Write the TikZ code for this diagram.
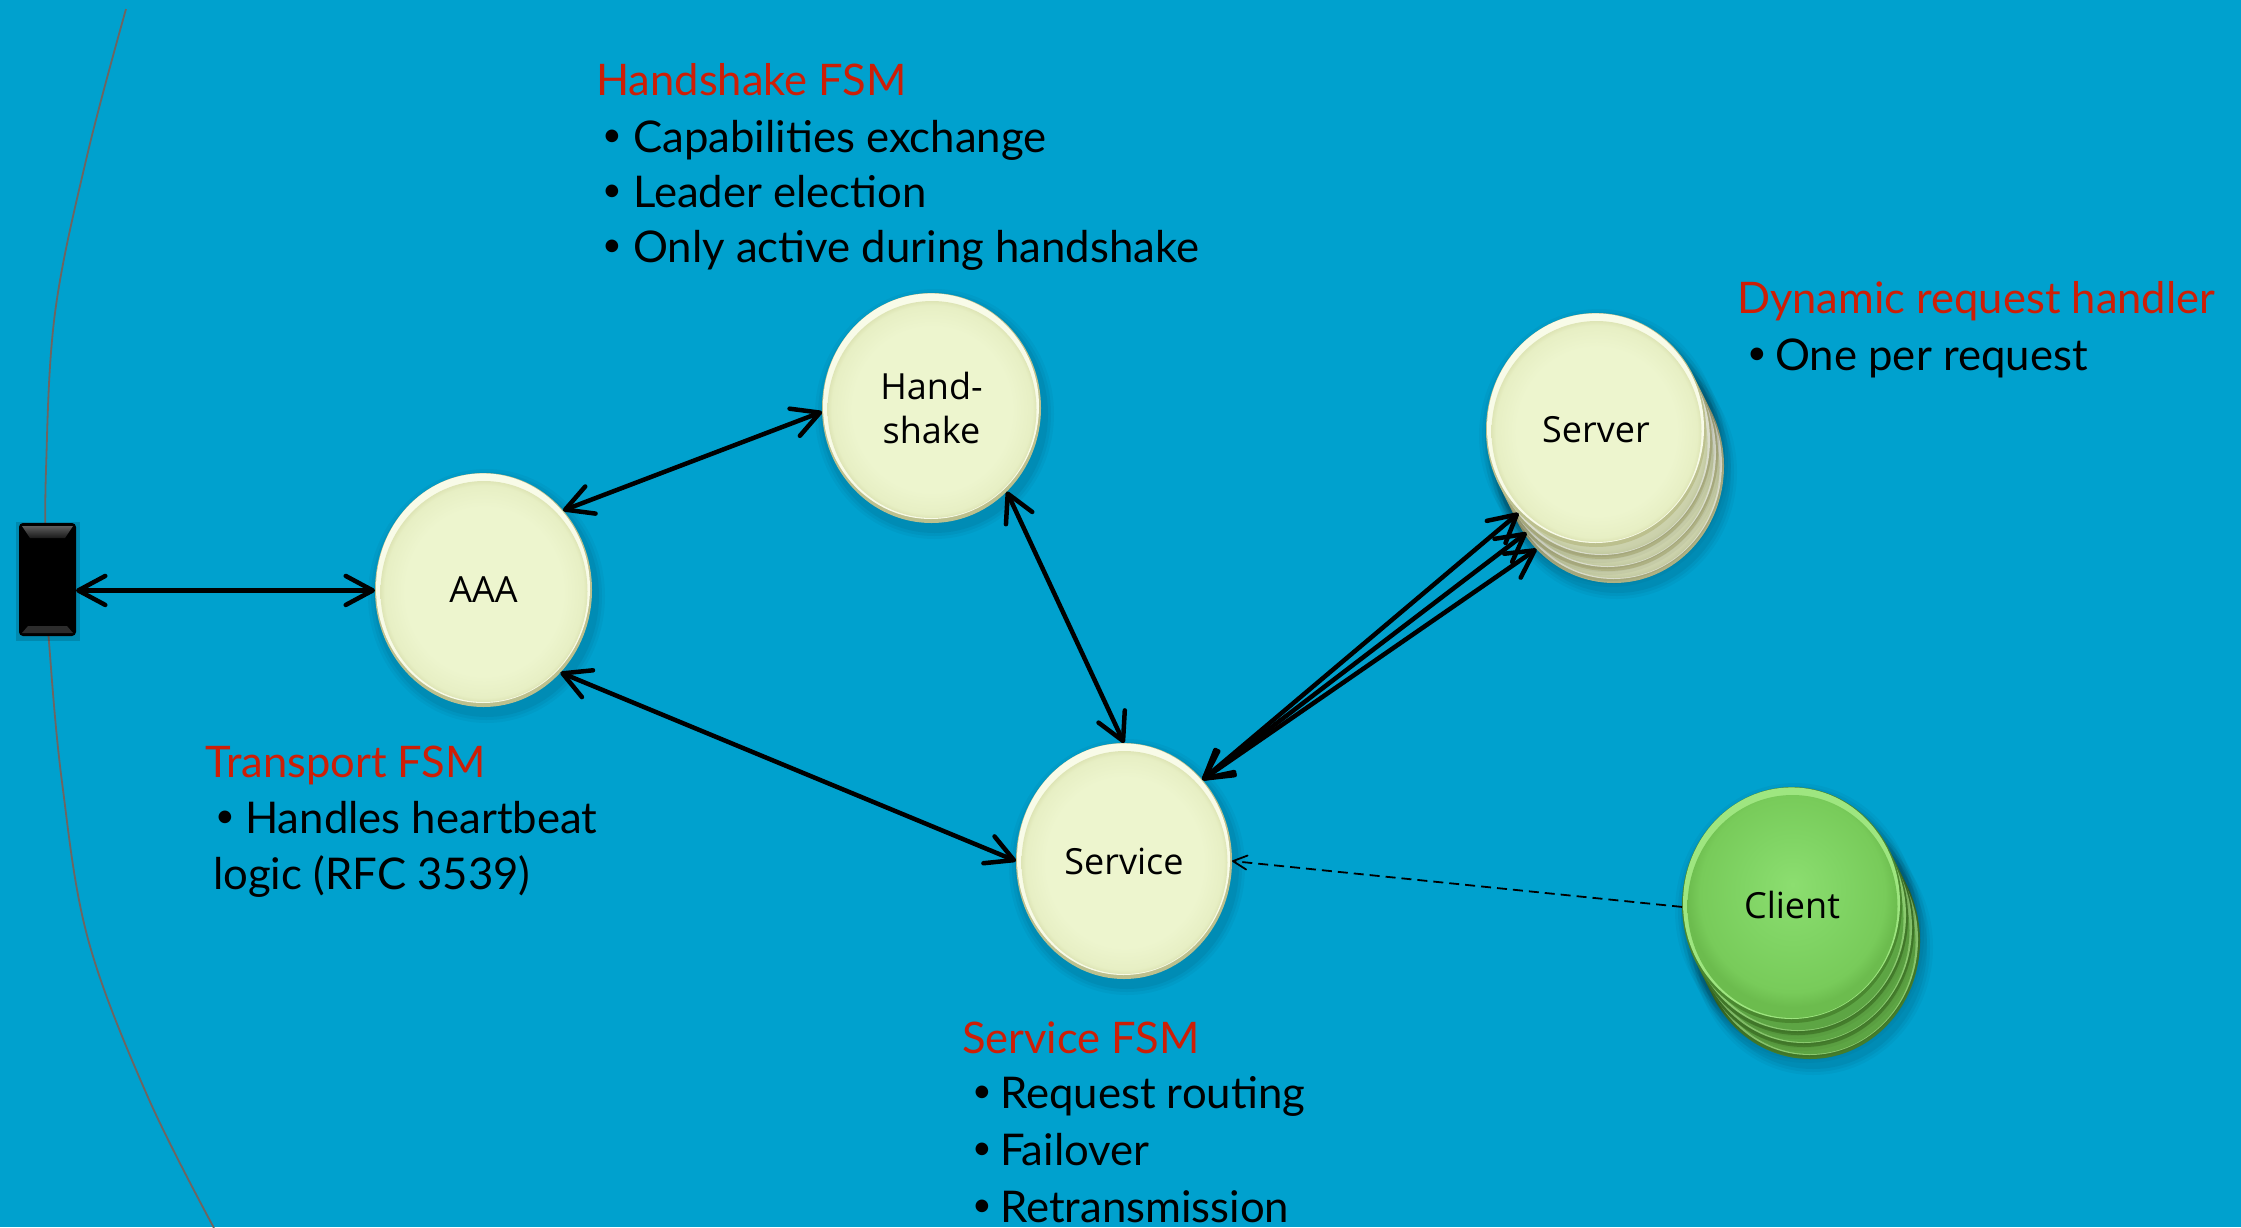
\documentclass[tikz,border=0pt]{standalone}
\usepackage{fontspec}
\usetikzlibrary{arrows.meta,shapes.geometric}
\newfontfamily\labelfont{Lato}
\newfontfamily\diskfont{Open Sans}

\definecolor{sea}{RGB}{0,161,206}
\definecolor{fsmred}{RGB}{206,30,6}
\definecolor{rimline}{RGB}{112,100,96}
\definecolor{beigeA}{RGB}{237,245,206}
\definecolor{beigeB}{RGB}{231,239,196}
\definecolor{beigeC}{RGB}{222,229,182}
\definecolor{beigeDark}{RGB}{188,192,142}
\definecolor{beigeLight}{RGB}{248,251,232}
\definecolor{greenTop}{RGB}{140,222,112}
\definecolor{greenA}{RGB}{128,212,100}
\definecolor{greenB}{RGB}{120,203,90}
\definecolor{greenC}{RGB}{108,188,78}
\definecolor{greenDark}{RGB}{74,136,48}
\definecolor{greenLight}{RGB}{158,230,128}
\definecolor{bevelTop}{RGB}{92,92,92}
\definecolor{bevelLow}{RGB}{44,44,44}

\pgfdeclareradialshading{beigebody}{\pgfpointorigin}{color(0bp)=(beigeA); color(19bp)=(beigeA); color(24bp)=(beigeB); color(25bp)=(beigeC); color(50bp)=(beigeC)}
\pgfdeclareradialshading{greenbody}{\pgfpoint{0bp}{5bp}}{color(0bp)=(greenTop); color(12bp)=(greenA); color(22bp)=(greenB); color(25bp)=(greenC); color(50bp)=(greenC)}

% a bevelled disk: soft shadow, dark lower rim, light upper rim, shaded face
\newcommand\diskart[7]{%
  \foreach \s/\o in {10/0.03,7/0.04,4/0.05}{
    \fill[black,opacity=\o] ({#1+3},{#2+6}) ellipse [x radius=#3pt+\s pt, y radius=#4pt+\s pt];
  }
  \fill[#5] (#1,#2) ellipse [x radius=#3pt, y radius=#4pt];
  \fill[#6] ({#1-0.5},{#2-1.8}) ellipse [x radius=#3pt-1.5pt, y radius=#4pt-2.2pt];
  \shade[shading=#7] ({#1+0.5},{#2+1.5}) ellipse [x radius=#3pt-5pt, y radius=#4pt-6.5pt];
}
\newcommand\bul[1]{\makebox[#1][l]{\raisebox{6pt}{\fontsize{34}{34}\selectfont •}}}

\tikzset{
  disk/.style={ellipse, inner sep=0pt, outer sep=0pt, align=center, text=black,
    font=\diskfont\fontsize{36}{44}\selectfont},
  heading/.style={anchor=base west, inner sep=0pt, text=fsmred,
    font=\labelfont\fontsize{43.5}{50}\selectfont},
  item/.style={anchor=base west, inner sep=0pt, text=black,
    font=\labelfont\fontsize{43.7}{50}\selectfont},
  barb/.tip={Straight Barb[length=27pt,width=29pt,round]},
  link/.style={line width=4.5pt, draw=black, barb-barb},
  cue/.style={line width=1.8pt, draw=black, dash pattern=on 10pt off 6pt,
    -{Straight Barb[length=14pt,width=14pt,round]}},
  port/.style={rectangle, fill=black, rounded corners=4pt, inner sep=0pt, outer sep=0pt,
    minimum width=57pt, minimum height=113pt},
}

\begin{document}
\begin{tikzpicture}[x=1pt,y=-1pt]
\useasboundingbox (0,0) rectangle (2241,1227);
\fill[sea] (0,0) rectangle (2241,1227);

% boundary curve
\draw[rimline, line width=1.8pt] plot[smooth, tension=0.6] coordinates
  {(126,9) (87,156) (55,313) (46,470) (46,580) (49,642) (62,782) (88,939) (147,1095) (214,1228)};

% transport endpoint
\fill[black,opacity=0.15] (16,522) rectangle (80,641);
\node[port] (port) at (47.5,579.5) {};
\shade[top color=bevelTop, bottom color=black!90] (22,526) -- (73,526) -- (65,538) -- (30,538) -- cycle;
\fill[bevelLow] (22,633) -- (73,633) -- (67,626) -- (28,626) -- cycle;

% state machines
\diskart{483.5}{590}{108.5}{117}{beigeDark}{beigeLight}{beigebody}
\node[disk, minimum width=217pt, minimum height=234pt] (aaa) at (483.5,590) {AAA};

\diskart{931.5}{408}{109.5}{115}{beigeDark}{beigeLight}{beigebody}
\node[disk, minimum width=219pt, minimum height=230pt] (hs) at (931.5,408) {Hand-\\shake};

\diskart{1124}{861}{108}{118}{beigeDark}{beigeLight}{beigebody}
\node[disk, minimum width=216pt, minimum height=236pt] (service) at (1124,861) {Service};

% stack of server instances
\diskart{1614}{466}{110}{117}{beigeDark}{beigeLight}{beigebody}
\node[disk, minimum width=220pt, minimum height=234pt] (serverC) at (1614,466) {};
\diskart{1608}{454}{110}{117}{beigeDark}{beigeLight}{beigebody}
\node[disk, minimum width=220pt, minimum height=234pt] (serverB) at (1608,454) {};
\diskart{1602}{442}{110}{117}{beigeDark}{beigeLight}{beigebody}
\node[disk, minimum width=220pt, minimum height=234pt] (serverA) at (1602,442) {};
\diskart{1596}{430}{110}{117}{beigeDark}{beigeLight}{beigebody}
\node[disk, minimum width=220pt, minimum height=234pt] (server) at (1596,430) {Server};

% stack of clients
\diskart{1810}{941}{110}{118}{greenDark}{greenLight}{greenbody}
\node[disk, minimum width=220pt, minimum height=236pt] (clientC) at (1810,941) {};
\diskart{1804}{929}{110}{118}{greenDark}{greenLight}{greenbody}
\node[disk, minimum width=220pt, minimum height=236pt] (clientB) at (1804,929) {};
\diskart{1798}{917}{110}{118}{greenDark}{greenLight}{greenbody}
\node[disk, minimum width=220pt, minimum height=236pt] (clientA) at (1798,917) {};
\diskart{1792}{905}{110}{118}{greenDark}{greenLight}{greenbody}
\node[disk, minimum width=220pt, minimum height=236pt] (client) at (1792,905) {Client};

% connectors
\draw[link] (port.-21) -- (port.-21 -| aaa.west);
\draw[link] (aaa.45) -- (hs.182);
\draw[link] (aaa.-47) -- (service.180);
\draw[link] (hs.-48) -- (service.90);
\draw[link] (service.46) -- (server.227);
\draw[link] (service.46) -- (serverB.224);
\draw[link] (service.46) -- (serverC.227);
\draw[cue] (client.181) -- (service.east);

% descriptions
\node[heading] (hsTitle) at (596,95) {Handshake FSM};
\node[item] (hsCap) at (602,152) {\bul{31pt}Capabilities exchange};
\node[item] (hsLead) at (602,207) {\bul{31pt}Leader election};
\node[item] (hsOnly) at (602,262) {\bul{31pt}Only active during handshake};

\node[heading] (drTitle) at (1737,313) {Dynamic request handler};
\node[item] (drOne) at (1747,370) {\bul{28pt}One per request};

\node[heading] (tpTitle) at (205,777) {Transport FSM};
\node[item] (tpBeat) at (215,833) {\bul{30pt}Handles heartbeat};
\node[item] (tpLogic) at (213,889) {logic (RFC 3539)};

\node[heading] (svTitle) at (962,1053) {Service FSM};
\node[item] (svRoute) at (972,1108) {\bul{28pt}Request routing};
\node[item] (svFail) at (972,1165) {\bul{28pt}Failover};
\node[item] (svRetx) at (972,1222) {\bul{28pt}Retransmission};
\end{tikzpicture}
\end{document}
